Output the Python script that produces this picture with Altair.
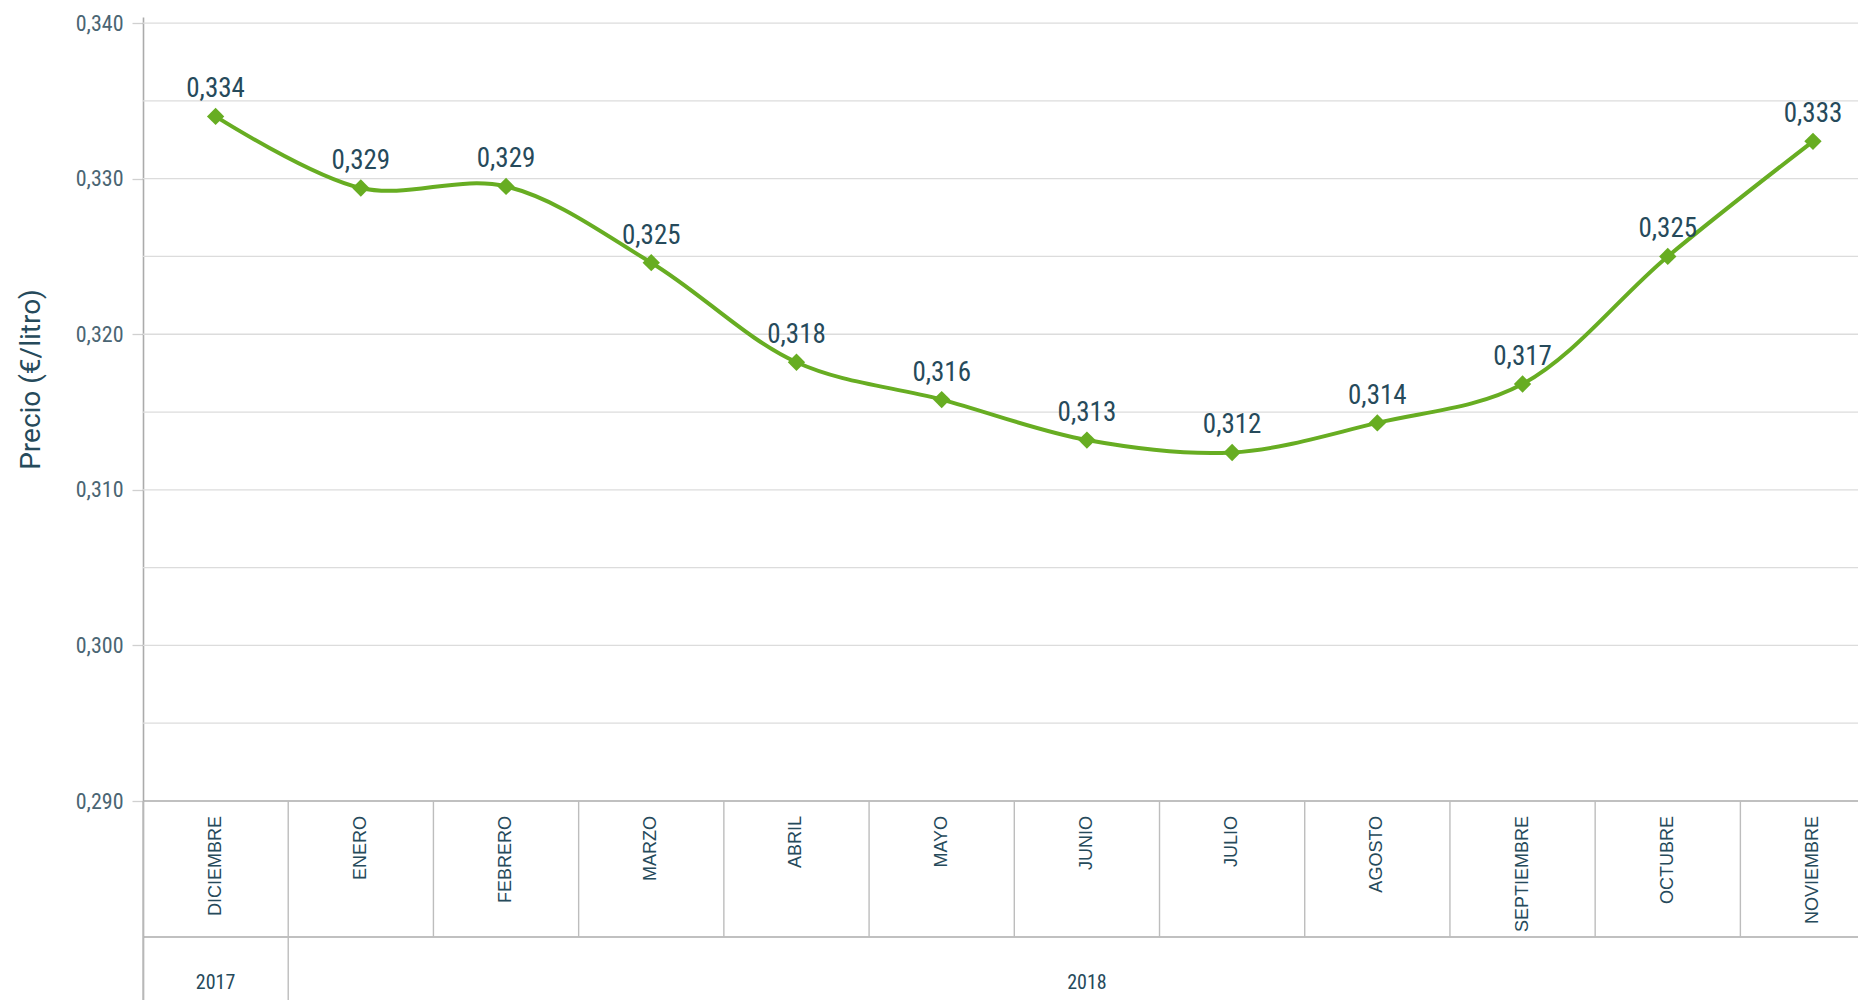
import altair as alt
import pandas as pd

# ---------------- data ----------------
months = ["DICIEMBRE", "ENERO", "FEBRERO", "MARZO", "ABRIL", "MAYO", "JUNIO",
          "JULIO", "AGOSTO", "SEPTIEMBRE", "OCTUBRE", "NOVIEMBRE"]
years = ["2017", "2018", "2018", "2018", "2018", "2018", "2018",
         "2018", "2018", "2018", "2018", "2018"]
prices = [0.3340, 0.3294, 0.3295, 0.3246, 0.3182, 0.3158, 0.3132,
          0.3124, 0.3143, 0.3168, 0.3250, 0.3324]
price_labels = ["0,334", "0,329", "0,329", "0,325", "0,318", "0,316", "0,313",
                "0,312", "0,314", "0,317", "0,325", "0,333"]
y_ticks = [0.290, 0.300, 0.310, 0.320, 0.330, 0.340]
grid_values = [0.295, 0.300, 0.305, 0.310, 0.315, 0.320, 0.325, 0.330, 0.335, 0.340]

# ---------------- layout (data units of the y scale) ----------------
Y_TOP = 0.34039
Y_BOTTOM = 0.27721
Y_BASE = 0.290          # bottom of the plotting region / top of the month row
ROW_BOTTOM = 0.28126    # bottom of the month row
MONTH_TEXT_TOP = 0.28904
YEAR_TEXT = 0.27830
X_MAX = 11.31

GREEN = "#67ad22"
DARK = "#264a5b"
AXIS_TXT = "#4a6573"
NUM_FONT = "Roboto Condensed, DejaVu Sans Condensed, Roboto"

df = pd.DataFrame({"idx": list(range(len(months))), "month": months,
                   "year": years, "price": prices, "label": price_labels})
df["left"] = df["idx"] - 0.5

ydf = df.groupby("year", as_index=False).agg(first=("idx", "min"), last=("idx", "max"))
ydf["center"] = (ydf["first"] + ydf["last"]) / 2
ydf["left"] = ydf["first"] - 0.5

xs = alt.Scale(domain=[-0.5, X_MAX], nice=False, zero=False)
ys = alt.Scale(domain=[Y_BOTTOM, Y_TOP], nice=False, zero=False)

yaxis = alt.Axis(
    values=y_ticks, grid=False,
    labelExpr="replace(format(datum.value, '.3f'), '.', ',')",
    title="Precio (€/litro)", titleX=-98, titleY=362,
    titleFont="Roboto", titleFontSize=28, titleFontWeight="normal",
    titleColor=DARK,
    domainColor="#ababab", domainWidth=1.6,
    tickColor="#d0d0d0", tickSize=11, tickWidth=1.3,
    labelPadding=9, labelFont=NUM_FONT, labelFontSize=22,
    labelFontWeight="normal", labelColor=AXIS_TXT,
)

grid = alt.Chart(pd.DataFrame({"price": grid_values})).mark_rule(
    color="#dcdcdc", strokeWidth=1.3
).encode(y=alt.Y("price:Q", scale=ys, axis=yaxis))

base_lines = alt.Chart(pd.DataFrame({"price": [Y_BASE, ROW_BOTTOM]})).mark_rule(
    color="#ababab", strokeWidth=1.6
).encode(y=alt.Y("price:Q", scale=ys, axis=yaxis))

month_sep = alt.Chart(df).mark_rule(color="#bdbdbd", strokeWidth=1.4).encode(
    x=alt.X("left:Q", scale=xs, axis=None),
    y=alt.datum(Y_BASE),
    y2=alt.datum(ROW_BOTTOM),
)

year_sep = alt.Chart(ydf).mark_rule(color="#bdbdbd", strokeWidth=1.4).encode(
    x=alt.X("left:Q", scale=xs, axis=None),
    y=alt.datum(ROW_BOTTOM),
    y2=alt.datum(Y_BOTTOM),
)

line = alt.Chart(df).mark_line(
    color=GREEN, strokeWidth=4, interpolate="catmull-rom"
).encode(
    x=alt.X("idx:Q", scale=xs, axis=None),
    y=alt.Y("price:Q", scale=ys, axis=yaxis),
)

points = alt.Chart(df).mark_point(
    shape="diamond", filled=True, size=300, color=GREEN, opacity=1
).encode(x=alt.X("idx:Q", scale=xs, axis=None),
         y=alt.Y("price:Q", scale=ys, axis=yaxis))

labels = alt.Chart(df).mark_text(
    font=NUM_FONT, fontSize=27, color=DARK, baseline="alphabetic", dy=-19
).encode(x=alt.X("idx:Q", scale=xs, axis=None),
         y=alt.Y("price:Q", scale=ys, axis=yaxis), text="label:N")

month_text = alt.Chart(df).mark_text(
    font="Liberation Sans, Arial", fontSize=18, color=DARK, angle=270,
    align="right", baseline="middle"
).encode(x=alt.X("idx:Q", scale=xs, axis=None), y=alt.datum(MONTH_TEXT_TOP),
         text="month:N")

year_text = alt.Chart(ydf).mark_text(
    font=NUM_FONT, fontSize=20, color=DARK, baseline="middle"
).encode(x=alt.X("center:Q", scale=xs, axis=None), y=alt.datum(YEAR_TEXT),
         text="year:N")

chart = alt.layer(
    grid, base_lines, month_sep, year_sep, line, points, labels, month_text, year_text
).properties(
    width=1715, height=983,
    padding={"left": 135, "top": 9, "right": 0, "bottom": 0},
    autosize=alt.AutoSizeParams(type="none"),
).configure_view(stroke=None)

chart.save("out.html", embed_options={"renderer": "svg", "actions": False})
